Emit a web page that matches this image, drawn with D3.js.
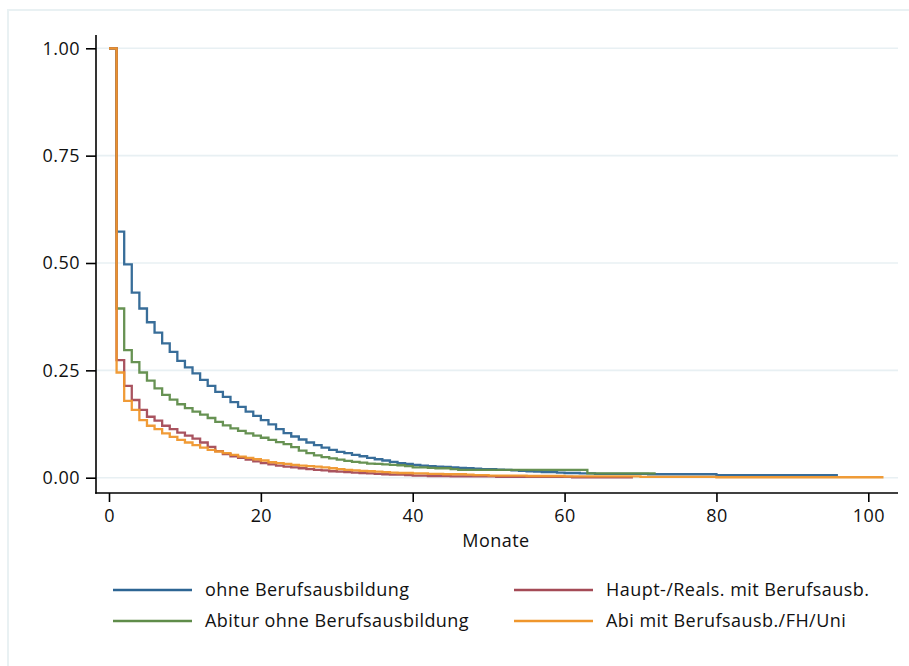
<!DOCTYPE html>
<html><head><meta charset="utf-8">
<script src="https://cdn.jsdelivr.net/npm/d3@7"></script>
<style>body{margin:0;background:#fff}svg{display:block}text{font-family:"Open Sans",sans-serif;fill:#111}</style>
</head><body><svg id="c" width="909" height="666"></svg>
<script>
// Survival by month (index = month)
const seriesNames = ["ohne Berufsausbildung","Abitur ohne Berufsausbildung","Haupt-/Reals. mit Berufsausb.","Abi mit Berufsausb./FH/Uni"];
const blueS = [1.000,0.573,0.497,0.431,0.394,0.362,0.338,0.313,0.293,0.272,
 0.257,0.243,0.228,0.214,0.200,0.188,0.176,0.165,0.154,0.144,
 0.134,0.124,0.113,0.104,0.096,0.089,0.082,0.076,0.070,0.065,
 0.060,0.057,0.053,0.050,0.046,0.043,0.040,0.037,0.034,0.032,
 0.030,0.028,0.027,0.026,0.025,0.024,0.023,0.022,0.021,0.020,
 0.020,0.019,0.018,0.017,0.016,0.015,0.014,0.013,0.013,0.012,
 0.011,0.011,0.010,0.010,0.009,0.009,0.009,0.009,0.009,0.009,
 0.009,0.008,0.008,0.008,0.008,0.008,0.008,0.008,0.008,0.008,
 0.006,0.006,0.006,0.006,0.006,0.006,0.006,0.006,0.006,0.006,
 0.006,0.006,0.006,0.006,0.006,0.006,0.006];
const greenS = [1.000,0.394,0.297,0.269,0.245,0.226,0.208,0.193,0.182,0.171,
 0.162,0.154,0.147,0.139,0.130,0.122,0.115,0.109,0.103,0.098,
 0.093,0.088,0.083,0.078,0.071,0.063,0.057,0.052,0.048,0.045,
 0.042,0.039,0.037,0.035,0.033,0.032,0.031,0.030,0.029,0.027,
 0.024,0.024,0.023,0.022,0.022,0.020,0.018,0.018,0.018,0.018,
 0.018,0.018,0.018,0.018,0.018,0.018,0.018,0.018,0.018,0.018,
 0.018,0.018,0.018,0.010,0.010,0.010,0.010,0.010,0.010,0.010,
 0.010,0.010,0.010];
const redS = [1.000,0.274,0.214,0.181,0.158,0.142,0.133,0.121,0.113,0.105,
 0.098,0.091,0.082,0.072,0.062,0.055,0.050,0.046,0.042,0.038,
 0.034,0.031,0.028,0.026,0.024,0.022,0.020,0.018,0.017,0.015,
 0.014,0.013,0.012,0.011,0.010,0.009,0.008,0.007,0.007,0.006,
 0.005,0.005,0.004,0.004,0.004,0.003,0.003,0.003,0.003,0.003,
 0.003,0.002,0.002,0.002,0.002,0.002,0.002,0.002,0.002,0.002,
 0.002,0.001,0.001,0.001,0.001,0.001,0.001,0.001,0.001,0.001];
const orangeS = [1.000,0.245,0.179,0.158,0.134,0.121,0.113,0.103,0.095,0.088,
 0.082,0.076,0.070,0.065,0.061,0.057,0.053,0.049,0.046,0.043,
 0.040,0.036,0.034,0.032,0.030,0.028,0.027,0.026,0.024,0.022,
 0.020,0.018,0.017,0.016,0.015,0.014,0.013,0.012,0.011,0.011,
 0.010,0.010,0.009,0.009,0.008,0.008,0.008,0.007,0.006,0.006,
 0.005,0.005,0.005,0.005,0.005,0.004,0.004,0.004,0.004,0.004,
 0.003,0.003,0.003,0.003,0.003,0.003,0.003,0.003,0.003,0.003,
 0.002,0.002,0.002,0.002,0.002,0.002,0.002,0.002,0.002,0.002,
 0.001,0.001,0.001,0.001,0.001,0.001,0.001,0.001,0.001,0.001,
 0.001,0.001,0.001,0.001,0.001,0.001,0.001,0.001,0.001,0.001,
 0.001,0.001,0.001];
const xTicks = [0,20,40,60,80,100];
const yTicks = [0,0.25,0.5,0.75,1];
const colors = ["#2d6593","#5f8c4a","#a44a56","#ef962c"];

const FS = "18px", LS = "0.45px";
const svg = d3.select("#c");
// outer frame
svg.append("rect").attr("x",8).attr("y",10).attr("width",910).attr("height",670)
  .attr("fill","none").attr("stroke","#e9f1f3").attr("stroke-width",2);

const x = d3.scaleLinear().domain([0,100]).range([109,868.3]);
const y = d3.scaleLinear().domain([0,1]).range([477.7,48.3]);
const L = 96, R = 898, T = 35, B = 493;

// gridlines
svg.append("g").selectAll("line").data(yTicks).join("line")
  .attr("x1",L+1).attr("x2",R).attr("y1",d=>y(d)).attr("y2",d=>y(d))
  .attr("stroke","#e8f0f3").attr("stroke-width",1.6);

// curves
const allS = [blueS,greenS,redS,orangeS];
const line = d3.line().x(d=>x(d[0])).y(d=>y(d[1])).curve(d3.curveStepAfter);
[0,1,2,3].forEach(i=>{
  const pts = allS[i].map((v,t)=>[t,v]);
  svg.append("path").attr("d",line(pts)).attr("fill","none")
    .attr("stroke",colors[i]).attr("stroke-width",2.3).attr("stroke-opacity",0.95);
});

// axes
const yAxis = d3.axisLeft(y).tickValues(yTicks).tickFormat(d3.format(".2f")).tickSize(10).tickPadding(6);
const gy = svg.append("g").attr("transform",`translate(${L},0)`).call(yAxis);
gy.select(".domain").remove();
gy.append("line").attr("x1",0).attr("x2",0).attr("y1",T).attr("y2",B+0.8).attr("stroke","#000").attr("stroke-width",1.6);
const xAxis = d3.axisBottom(x).tickValues(xTicks).tickSize(9).tickPadding(7);
const gx = svg.append("g").attr("transform",`translate(0,${B})`).call(xAxis);
gx.select(".domain").remove();
gx.append("line").attr("x1",L-0.8).attr("x2",R).attr("y1",0).attr("y2",0).attr("stroke","#000").attr("stroke-width",1.6);
[gx,gy].forEach(g=>{
  g.selectAll(".tick line").attr("stroke","#000").attr("stroke-width",1.6);
  g.selectAll(".tick text").style("font-size",FS).style("letter-spacing",LS)
    .style("font-family","'Open Sans',sans-serif").attr("fill","#111");
});

svg.append("text").attr("x",496).attr("y",547).attr("text-anchor","middle")
  .style("font-size",FS).style("letter-spacing",LS).text("Monate");

// legend
const legPos = [[113,590],[514,590],[113,621],[514,621]];
const legOrder = [0,2,1,3];
legOrder.forEach((si,k)=>{
  const [lx,ly] = legPos[k];
  svg.append("line").attr("x1",lx).attr("x2",lx+79).attr("y1",ly).attr("y2",ly)
    .attr("stroke",colors[si]).attr("stroke-width",2.3);
  svg.append("text").attr("x",lx+92).attr("y",ly+6).style("font-size",FS)
    .style("letter-spacing",LS).text(seriesNames[si]);
});
</script></body></html>
